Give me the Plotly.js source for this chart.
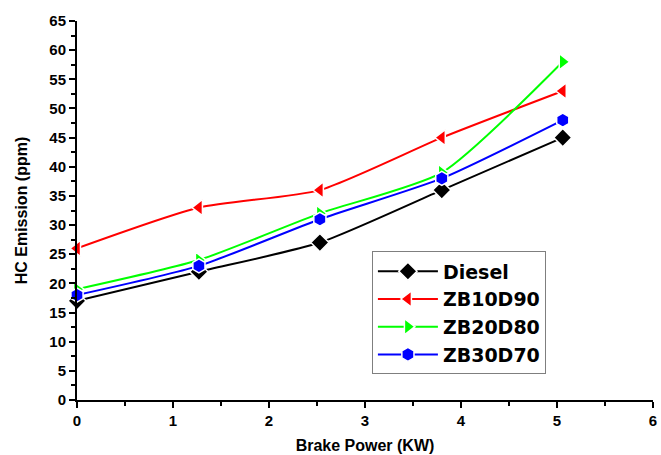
<!DOCTYPE html>
<html>
<head>
<meta charset="utf-8">
<script src="https://cdn.plot.ly/plotly-3.0.1.min.js"></script>
<style>html,body{margin:0;padding:0;background:#fff;}</style>
</head>
<body>
<div id="chart" style="width:661px;height:455px;"></div>
<script>
const brakePower = [0, 1.27, 2.53, 3.8, 5.06];
const seriesNames = ["Diesel", "ZB10D90", "ZB20D80", "ZB30D70"];
const diesel = [17, 22, 27, 36, 45];
const zb10d90 = [26, 33, 36, 45, 53];
const zb20d80 = [19, 24, 32, 39, 58];
const zb30d70 = [18, 23, 31, 38, 48];

const colors = ["#000000", "#ff0000", "#00ff00", "#0000ff"];
const symbols = ["diamond", "triangle-left", "triangle-right", "hexagon"];
const values = [diesel, zb10d90, zb20d80, zb30d70];

const traces = values.map((v, i) => ({
  x: brakePower,
  y: v,
  name: seriesNames[i],
  type: "scatter",
  mode: "lines+markers",
  line: {color: colors[i], width: 2, shape: "spline", smoothing: 0.6},
  marker: {symbol: symbols[i], size: 14, color: colors[i], line: {color: "#ffffff", width: 1.5}},
  cliponaxis: false
}));

const layout = {
  width: 661, height: 455,
  margin: {l: 77, r: 8, t: 21, b: 55},
  paper_bgcolor: "#fff", plot_bgcolor: "#fff",
  font: {family: "Liberation Sans, Arial, sans-serif", color: "#000"},
  showlegend: true,
  legend: {
    x: 0.512, y: 0.392, xanchor: "left", yanchor: "top",
    bordercolor: "#7f7f7f", borderwidth: 1, bgcolor: "#fff",
    font: {size: 19, family: "DejaVu Sans, sans-serif", weight: "bold"},
    tracegroupgap: 0, itemwidth: 60
  },
  xaxis: {
    range: [0, 6], dtick: 1, tick0: 0,
    showgrid: false, zeroline: false,
    showline: true, linecolor: "#000", linewidth: 2,
    ticks: "outside", ticklen: 6, tickwidth: 2, tickcolor: "#000",
    minor: {dtick: 0.5, ticks: "outside", ticklen: 4, tickwidth: 2, tickcolor: "#000", showgrid: false},
    tickfont: {size: 15, weight: "bold"},
    title: {text: "Brake Power (KW)", font: {size: 16, weight: "bold"}, standoff: 12}
  },
  yaxis: {
    range: [0, 65], dtick: 5, tick0: 0,
    showgrid: false, zeroline: false,
    showline: true, linecolor: "#000", linewidth: 2,
    ticks: "outside", ticklen: 6, tickwidth: 2, tickcolor: "#000",
    minor: {dtick: 2.5, ticks: "outside", ticklen: 4, tickwidth: 2, tickcolor: "#000", showgrid: false},
    tickfont: {size: 15, weight: "bold"},
    title: {text: "HC Emission (ppm)", font: {size: 16, weight: "bold"}, standoff: 18}
  }
};

Plotly.newPlot("chart", traces, layout, {displayModeBar: false, staticPlot: true});
</script>
</body>
</html>
